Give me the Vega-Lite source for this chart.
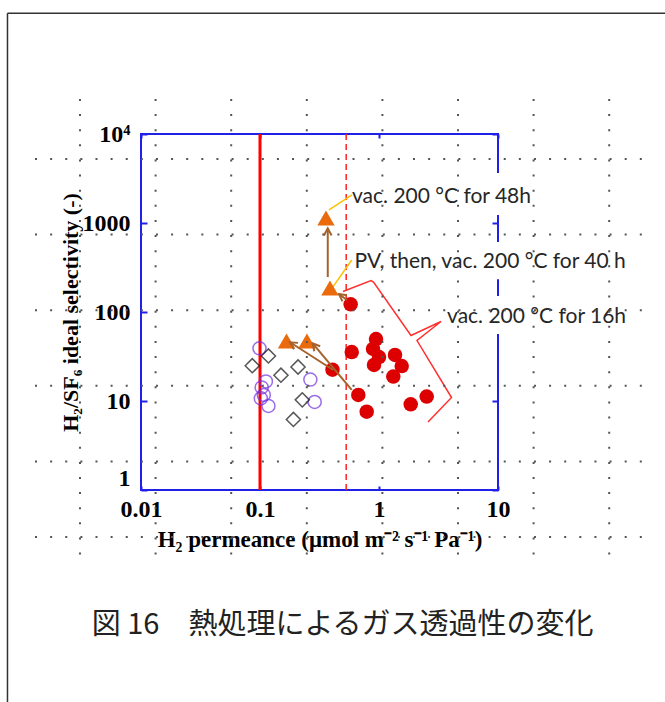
{
  "$schema": "https://vega.github.io/schema/vega-lite/v6.json",
  "width": 357,
  "height": 356,
  "autosize": {"type": "none"},
  "padding": {"left": 141, "top": 134, "right": 167, "bottom": 212},
  "background": "white",
  "config": {"view": {"stroke": null}},
  "datasets": {
    "circles": [
      {"x": 0.099, "y": 39.1}, {"x": 0.1121, "y": 16.6}, {"x": 0.1033, "y": 14.2}, {"x": 0.1076, "y": 11.7},
      {"x": 0.1016, "y": 10.7}, {"x": 0.1177, "y": 8.8}, {"x": 0.265, "y": 17.4}, {"x": 0.288, "y": 9.75}
    ],
    "diamonds": [
      {"x": 0.0861, "y": 24.9}, {"x": 0.1177, "y": 32.1}, {"x": 0.15, "y": 19.5},
      {"x": 0.2087, "y": 24.1}, {"x": 0.2267, "y": 10.3}, {"x": 0.1909, "y": 6.2}
    ],
    "triangles": [
      {"x": 0.167, "y": 47.2}, {"x": 0.248, "y": 47.2}, {"x": 0.3585, "y": 1138}, {"x": 0.387, "y": 186}
    ],
    "dots": [
      {"x": 0.578, "y": 122}, {"x": 0.59, "y": 35.5}, {"x": 0.4066, "y": 22.5}, {"x": 0.944, "y": 49.7},
      {"x": 0.891, "y": 38.4}, {"x": 1.0, "y": 31.2}, {"x": 0.908, "y": 25.4}, {"x": 1.363, "y": 32.9},
      {"x": 1.552, "y": 24.7}, {"x": 1.319, "y": 18.8}, {"x": 0.67, "y": 11.7}, {"x": 0.788, "y": 7.59},
      {"x": 1.847, "y": 9.18}, {"x": 2.517, "y": 11.2}
    ],
    "arrows": [
      {"x1": 0.413, "y1": 22.3, "x2": 0.1786, "y2": 45.7},
      {"x1": 0.59, "y1": 13.3, "x2": 0.277, "y2": 44.5},
      {"x1": 0.371, "y1": 247, "x2": 0.371, "y2": 871},
      {"x1": 0.538, "y1": 136.5, "x2": 0.461, "y2": 159}
    ],
    "leaders": [
      {"x1": 0.38, "y1": 1400, "x2": 0.593, "y2": 2065},
      {"x1": 0.375, "y1": 162, "x2": 0.59, "y2": 384}
    ],
    "bracket": [
      {"i": 1, "x": 0.498, "y": 169.9}, {"i": 2, "x": 0.857, "y": 225.9}, {"i": 3, "x": 0.899, "y": 217.3},
      {"i": 4, "x": 1.857, "y": 54.5}, {"i": 5, "x": 3.319, "y": 78.2}, {"i": 6, "x": 2.086, "y": 47.8},
      {"i": 7, "x": 4.067, "y": 10.95}, {"i": 8, "x": 2.581, "y": 5.81}
    ],
    "labels": [
      {"text": "vac. 200 °C for 48h", "x": 0.593, "y": 1959},
      {"text": "PV, then, vac. 200 °C for 40 h", "x": 0.622, "y": 365},
      {"text": "vac. 200 °C for 16h", "x": 3.73, "y": 87.9}
    ],
    "boxes": [
      {"x1": 0.557, "x2": 22.5, "y1": 1230, "y2": 3648},
      {"x1": 0.57, "x2": 156, "y1": 234, "y2": 613},
      {"x1": 3.26, "x2": 141.6, "y1": 56.6, "y2": 151.3}
    ],
    "gridV": [{"g": 0}, {"g": 1}, {"g": 2}, {"g": 3}, {"g": 4}, {"g": 5}, {"g": 6}, {"g": 7}],
    "gridH": [{"g": 0}, {"g": 1}, {"g": 2}, {"g": 3}, {"g": 4}, {"g": 5}]
  },
  "layer": [
    {
      "layer": [
        {
          "data": {"values": [{"frame": 1}]},
          "mark": {"type": "rect", "filled": false, "color": "#2020e8", "strokeWidth": 2},
          "encoding": {
            "x": {"datum": 0.01, "type": "quantitative", "scale": {"type": "log", "domain": [0.01, 10], "nice": false},
              "axis": {"orient": "top", "values": [0.01, 0.1, 1, 10], "labels": false, "domain": false, "grid": false, "ticks": true, "tickSize": -4, "tickWidth": 2, "tickColor": "#2020e8", "title": null}},
            "x2": {"datum": 10},
            "y": {"datum": 1, "type": "quantitative", "scale": {"type": "log", "domain": [1, 10000], "nice": false},
              "axis": {"orient": "right", "values": [1, 10, 100, 1000, 10000], "labels": false, "domain": false, "grid": false, "ticks": true, "tickSize": -6, "tickWidth": 2, "tickColor": "#2020e8", "title": null}},
            "y2": {"datum": 10000}
          }
        },
        {
          "data": {"values": [{"x": 0.1}]},
          "mark": {"type": "rule", "color": "#ff0000", "strokeWidth": 3},
          "encoding": {
            "x": {"field": "x", "type": "quantitative", "scale": {"type": "log", "domain": [0.01, 10], "nice": false}, "axis": null}
          }
        },
        {
          "data": {"values": [{"x": 0.53}]},
          "mark": {"type": "rule", "color": "#ff2020", "strokeWidth": 1.5, "strokeDash": [6, 4]},
          "encoding": {
            "x": {"field": "x", "type": "quantitative", "scale": {"type": "log", "domain": [0.01, 10], "nice": false}, "axis": null}
          }
        },
        {
          "data": {"name": "boxes"},
          "mark": {"type": "rect", "fill": "white", "strokeWidth": 0},
          "encoding": {
            "x": {"field": "x1", "type": "quantitative", "scale": {"type": "log", "domain": [0.01, 10], "nice": false}, "axis": null},
            "x2": {"field": "x2"},
            "y": {"field": "y1", "type": "quantitative", "scale": {"type": "log", "domain": [1, 10000], "nice": false}, "axis": null},
            "y2": {"field": "y2"}
          }
        },
        {
          "data": {"name": "bracket"},
          "mark": {"type": "line", "color": "#ff3030", "strokeWidth": 1.5},
          "encoding": {
            "x": {"field": "x", "type": "quantitative", "scale": {"type": "log", "domain": [0.01, 10], "nice": false}, "axis": null},
            "y": {"field": "y", "type": "quantitative", "scale": {"type": "log", "domain": [1, 10000], "nice": false}, "axis": null},
            "order": {"field": "i", "type": "quantitative"}
          }
        },
        {
          "data": {"name": "leaders"},
          "mark": {"type": "rule", "color": "#ffc000", "strokeWidth": 1.5},
          "encoding": {
            "x": {"field": "x1", "type": "quantitative", "scale": {"type": "log", "domain": [0.01, 10], "nice": false}, "axis": null},
            "x2": {"field": "x2"},
            "y": {"field": "y1", "type": "quantitative", "scale": {"type": "log", "domain": [1, 10000], "nice": false}, "axis": null},
            "y2": {"field": "y2"}
          }
        },
        {
          "data": {"name": "circles"},
          "mark": {"type": "point", "shape": "circle", "filled": false, "color": "#7030e0", "strokeWidth": 1.5, "size": 170},
          "encoding": {
            "x": {"field": "x", "type": "quantitative", "scale": {"type": "log", "domain": [0.01, 10], "nice": false},
              "axis": {"orient": "bottom", "values": [0.01, 0.1, 1, 10], "domain": false, "grid": false, "ticks": true, "tickSize": -4, "tickWidth": 2, "tickColor": "#2020e8",
                "labelPadding": 11, "labelFont": "Liberation Serif", "labelFontWeight": "bold", "labelFontSize": 24, "labelColor": "#000000",
                "labelFlush": false, "labelOverlap": false,
                "labelExpr": "datum.value < 0.05 ? '0.01' : datum.value < 0.5 ? '0.1' : datum.value < 5 ? '1' : '10'",
                "title": "H₂ permeance (μmol m⁻² s⁻¹ Pa⁻¹)", "titleFont": "Liberation Serif", "titleFontWeight": "bold", "titleFontSize": 23, "titleColor": "#000000", "titlePadding": 7}},
            "y": {"field": "y", "type": "quantitative", "scale": {"type": "log", "domain": [1, 10000], "nice": false},
              "axis": {"orient": "left", "values": [1, 10, 100, 1000, 10000], "domain": false, "grid": false, "ticks": true, "tickSize": -6, "tickWidth": 2, "tickColor": "#2020e8",
                "labelPadding": 17, "labelFont": "Liberation Serif", "labelFontWeight": "bold", "labelFontSize": 24, "labelColor": "#000000",
                "labelFlush": false, "labelOverlap": false,
                "labelBaseline": {"condition": {"test": "datum.value < 2", "value": "bottom"}, "value": "middle"},
                "labelExpr": "datum.value > 5000 ? '10⁴' : format(datum.value, 'd')",
                "title": "H₂/SF₆ ideal selectivity (-)", "titleFont": "Liberation Serif", "titleFontWeight": "bold", "titleFontSize": 22, "titleColor": "#000000", "titlePadding": 0}}
          }
        },
        {
          "data": {"name": "diamonds"},
          "mark": {"type": "point", "shape": "diamond", "filled": false, "color": "#111111", "strokeWidth": 1.5, "size": 200},
          "encoding": {
            "x": {"field": "x", "type": "quantitative", "scale": {"type": "log", "domain": [0.01, 10], "nice": false}, "axis": null},
            "y": {"field": "y", "type": "quantitative", "scale": {"type": "log", "domain": [1, 10000], "nice": false}, "axis": null}
          }
        },
        {
          "data": {"name": "dots"},
          "mark": {"type": "point", "shape": "circle", "filled": true, "color": "#dd0000", "opacity": 1, "size": 210},
          "encoding": {
            "x": {"field": "x", "type": "quantitative", "scale": {"type": "log", "domain": [0.01, 10], "nice": false}, "axis": null},
            "y": {"field": "y", "type": "quantitative", "scale": {"type": "log", "domain": [1, 10000], "nice": false}, "axis": null}
          }
        },
        {
          "data": {"name": "triangles"},
          "mark": {"type": "point", "shape": "triangle-up", "filled": true, "color": "#ea6a0c", "opacity": 1, "size": 300},
          "encoding": {
            "x": {"field": "x", "type": "quantitative", "scale": {"type": "log", "domain": [0.01, 10], "nice": false}, "axis": null},
            "y": {"field": "y", "type": "quantitative", "scale": {"type": "log", "domain": [1, 10000], "nice": false}, "axis": null}
          }
        },
        {
          "data": {"name": "arrows"},
          "mark": {"type": "rule", "color": "#a5632b", "strokeWidth": 2},
          "encoding": {
            "x": {"field": "x1", "type": "quantitative", "scale": {"type": "log", "domain": [0.01, 10], "nice": false}, "axis": null},
            "x2": {"field": "x2"},
            "y": {"field": "y1", "type": "quantitative", "scale": {"type": "log", "domain": [1, 10000], "nice": false}, "axis": null},
            "y2": {"field": "y2"}
          }
        },
        {
          "data": {"name": "arrows"},
          "transform": [
            {"calculate": "atan2(119 * log(datum.x2 / datum.x1), 89 * log(datum.y2 / datum.y1)) * 180 / PI", "as": "ang"}
          ],
          "mark": {"type": "point", "shape": "M-0.7,1.3L0,0L0.7,1.3", "filled": false, "color": "#a5632b", "strokeWidth": 2, "size": 120, "opacity": 1},
          "encoding": {
            "x": {"field": "x2", "type": "quantitative", "scale": {"type": "log", "domain": [0.01, 10], "nice": false}, "axis": null},
            "y": {"field": "y2", "type": "quantitative", "scale": {"type": "log", "domain": [1, 10000], "nice": false}, "axis": null},
            "angle": {"field": "ang", "type": "quantitative", "scale": null}
          }
        },
        {
          "data": {"name": "labels"},
          "mark": {"type": "text", "align": "left", "baseline": "middle", "font": "Lato", "fontSize": 21, "color": "#262626"},
          "encoding": {
            "x": {"field": "x", "type": "quantitative", "scale": {"type": "log", "domain": [0.01, 10], "nice": false}, "axis": null},
            "y": {"field": "y", "type": "quantitative", "scale": {"type": "log", "domain": [1, 10000], "nice": false}, "axis": null},
            "text": {"field": "text"}
          }
        }
      ],
      "resolve": {"axis": {"x": "independent", "y": "independent"}}
    },
    {
      "layer": [
        {
          "data": {"name": "gridV"},
          "mark": {"type": "rule", "color": "#555555", "strokeWidth": 2, "strokeDash": [2, 13.12]},
          "encoding": {
            "x": {"field": "g", "type": "quantitative", "scale": {"domain": [0.807, 5.529], "nice": false, "zero": false}, "axis": null},
            "y": {"datum": -0.794, "type": "quantitative", "scale": {"domain": [-0.331, 4.378], "nice": false, "zero": false, "reverse": true}, "axis": null},
            "y2": {"datum": 5.397}
          }
        },
        {
          "data": {"name": "gridH"},
          "mark": {"type": "rule", "color": "#555555", "strokeWidth": 2, "strokeDash": [2, 13.12]},
          "encoding": {
            "y": {"field": "g", "type": "quantitative", "scale": {"domain": [-0.331, 4.378], "nice": false, "zero": false, "reverse": true}, "axis": null},
            "x": {"datum": -0.595, "type": "quantitative", "scale": {"domain": [0.807, 5.529], "nice": false, "zero": false}, "axis": null},
            "x2": {"datum": 7.593}
          }
        },
        {
          "data": {"values": [{"side": "left"}]},
          "mark": {"type": "rule", "color": "#333333", "strokeWidth": 1.5},
          "encoding": {
            "x": {"datum": -0.959, "type": "quantitative", "scale": {"domain": [0.807, 5.529], "nice": false, "zero": false}, "axis": null},
            "y": {"datum": -1.927, "type": "quantitative", "scale": {"domain": [-0.331, 4.378], "nice": false, "zero": false, "reverse": true}, "axis": null},
            "y2": {"datum": 9}
          }
        },
        {
          "data": {"values": [{"side": "top"}]},
          "mark": {"type": "rule", "color": "#333333", "strokeWidth": 1.5},
          "encoding": {
            "x": {"datum": -0.959, "type": "quantitative", "scale": {"domain": [0.807, 5.529], "nice": false, "zero": false}, "axis": null},
            "x2": {"datum": 9},
            "y": {"datum": -1.927, "type": "quantitative", "scale": {"domain": [-0.331, 4.378], "nice": false, "zero": false, "reverse": true}, "axis": null}
          }
        },
        {
          "data": {"values": [{"t": "図 16　熱処理によるガス透過性の変化"}]},
          "mark": {"type": "text", "align": "center", "baseline": "middle", "font": "Noto Sans CJK JP", "fontSize": 29, "color": "#222222"},
          "encoding": {
            "x": {"datum": 3.474, "type": "quantitative", "scale": {"domain": [0.807, 5.529], "nice": false, "zero": false}, "axis": null},
            "y": {"datum": 6.159, "type": "quantitative", "scale": {"domain": [-0.331, 4.378], "nice": false, "zero": false, "reverse": true}, "axis": null},
            "text": {"field": "t"}
          }
        }
      ]
    }
  ],
  "resolve": {"scale": {"x": "independent", "y": "independent"}}
}
